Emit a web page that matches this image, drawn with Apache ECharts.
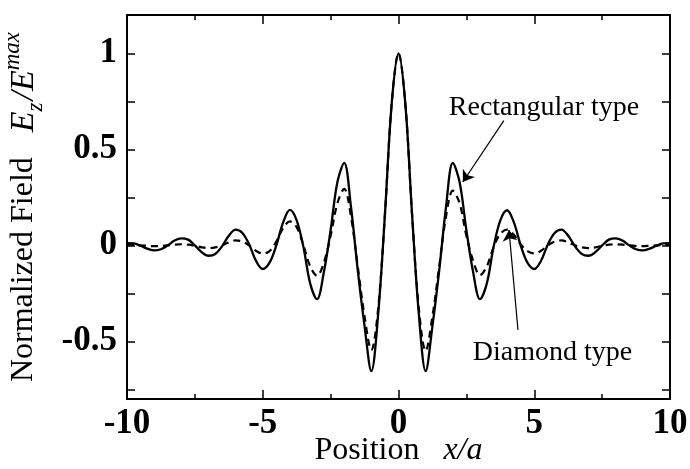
<!DOCTYPE html>
<html>
<head>
<meta charset="utf-8">
<script src="https://cdn.jsdelivr.net/npm/echarts@6/dist/echarts.min.js"></script>
<style>
html,body{margin:0;padding:0;background:#fff;}
#chart{width:690px;height:469px;}
</style>
</head>
<body>
<div id="chart"></div>
<script>
// Position x/a
const xPositions = [-10,-9.75,-9.5,-9.25,-9,-8.75,-8.5,-8.25,-8,-7.75,-7.5,-7.25,-7,-6.75,-6.5,-6.25,-6,-5.75,-5.5,-5.25,-5,-4.75,-4.5,-4.25,-4,-3.75,-3.5,-3.25,-3,-2.75,-2.5,-2.25,-2,-1.75,-1.5,-1.25,-1,-0.75,-0.5,-0.25,0,0.25,0.5,0.75,1,1.25,1.5,1.75,2,2.25,2.5,2.75,3,3.25,3.5,3.75,4,4.25,4.5,4.75,5,5.25,5.5,5.75,6,6.25,6.5,6.75,7,7.25,7.5,7.75,8,8.25,8.5,8.75,9,9.25,9.5,9.75,10];

// Rectangular type (solid)
const rectangularField = [0.012,0.01,-0.002,-0.017,-0.026,-0.02,0.0,0.025,0.037,0.03,0.0,-0.035,-0.054,-0.045,-0.005,0.05,0.082,0.065,0.005,-0.08,-0.123,-0.09,0.0,0.12,0.185,0.13,-0.01,-0.2,-0.28,-0.14,0.08,0.33,0.43,0.2,-0.13,-0.42,-0.655,-0.36,0.16,0.74,1.0,0.74,0.16,-0.36,-0.655,-0.42,-0.13,0.2,0.43,0.33,0.08,-0.14,-0.28,-0.2,-0.01,0.13,0.183,0.12,0.0,-0.09,-0.123,-0.08,0.005,0.065,0.082,0.05,-0.005,-0.045,-0.054,-0.035,0.0,0.03,0.037,0.025,0.0,-0.02,-0.026,-0.017,-0.002,0.01,0.012];

// Diamond type (dashed)
const diamondField = [0.004,0.002,0.0,-0.002,-0.004,-0.003,0.0,0.004,0.006,0.004,-0.002,-0.01,-0.014,-0.01,0.0,0.016,0.026,0.02,0.0,-0.028,-0.043,-0.03,0.02,0.09,0.125,0.095,0.0,-0.11,-0.158,-0.09,0.05,0.22,0.294,0.15,-0.11,-0.37,-0.545,-0.33,0.16,0.74,1.0,0.74,0.16,-0.33,-0.55,-0.37,-0.11,0.15,0.285,0.22,0.05,-0.08,-0.155,-0.11,-0.01,0.06,0.082,0.055,0.005,-0.03,-0.042,-0.028,0.0,0.02,0.026,0.016,0.0,-0.01,-0.014,-0.01,-0.002,0.004,0.006,0.004,0.0,-0.003,-0.004,-0.002,0.0,0.002,0.004];

const xLabelValues = [-10,-5,0,5,10];
const yTickValues = [-0.75,-0.5,-0.25,0,0.25,0.5,0.75,1];
const yLabelValues = [-0.5,0,0.5,1];

const FONT = '"Liberation Serif","Times New Roman",serif';

function pairs(xs, ys){ return xs.map((x,i)=>[x, ys[i]]); }

const chart = echarts.init(document.getElementById('chart'), null, {renderer:'canvas'});

const axisLineStyle = {color:'#000', width:2};

const xBase = {
  type:'value', min:-10, max:10, interval:5,
  axisLine:{show:true, onZero:false, lineStyle:axisLineStyle},
  axisTick:{show:true, inside:true, length:9, lineStyle:{color:'#000', width:1.5}},
  minorTick:{show:true, splitNumber:2, length:5, lineStyle:{color:'#000', width:1.5}},
  splitLine:{show:false}, minorSplitLine:{show:false}
};
const yBase = {
  type:'value', min:-0.8, max:1.2,
  axisLine:{show:true, onZero:false, lineStyle:axisLineStyle},
  axisTick:{show:true, inside:true, length:8, customValues:yTickValues, lineStyle:{color:'#000', width:1.5}},
  splitLine:{show:false}
};

const option = {
  backgroundColor:'#fff',
  animation:false,
  grid:{left:127, right:20, top:15, bottom:70, containLabel:false, outerBoundsMode:'none'},
  xAxis:[
    Object.assign({}, xBase, {
      position:'bottom',
      axisLabel:{show:true, margin:7, color:'#000', fontFamily:FONT, fontWeight:'bold', fontSize:35,
        customValues:xLabelValues, formatter:v=>String(v)},
      name:'Position{i|x/a}', nameLocation:'middle', nameGap:36, nameMoveOverlap:false,
      nameTextStyle:{color:'#000', fontFamily:FONT, fontSize:32,
        rich:{i:{fontStyle:'italic', fontFamily:FONT, fontSize:32, color:'#000', padding:[0,0,0,24]}}}
    }),
    Object.assign({}, xBase, {position:'top', axisLabel:{show:false}})
  ],
  yAxis:[
    Object.assign({}, yBase, {
      position:'left',
      axisLabel:{show:true, margin:10, color:'#000', fontFamily:FONT, fontWeight:'bold', fontSize:35,
        customValues:yLabelValues, formatter:v=>String(v)},
      name:'Normalized Field{E|E}{sub|z}{i|/E}{sup|max}', nameLocation:'middle', nameGap:80, nameMoveOverlap:false,
      nameTextStyle:{color:'#000', fontFamily:FONT, fontSize:32, lineHeight:46,
        rich:{
          E:{fontStyle:'italic', fontFamily:FONT, fontSize:34, color:'#000', verticalAlign:'middle', padding:[0,0,0,25]},
          i:{fontStyle:'italic', fontFamily:FONT, fontSize:34, color:'#000', verticalAlign:'middle', padding:[0,0,0,2]},
          sub:{fontStyle:'italic', fontFamily:FONT, fontSize:23, color:'#000', verticalAlign:'bottom', lineHeight:36},
          sup:{fontStyle:'italic', fontFamily:FONT, fontSize:23, color:'#000', verticalAlign:'top', lineHeight:36}
        }}
    }),
    Object.assign({}, yBase, {position:'right', axisLabel:{show:false}})
  ],
  series:[
    {
      name:'Rectangular type', type:'line', xAxisIndex:0, yAxisIndex:0,
      data:pairs(xPositions, rectangularField), smooth:0.35, showSymbol:false, symbol:'none',
      lineStyle:{color:'#000', width:2.3, type:'solid'}, z:3,
      markLine:{
        silent:true, symbol:['none','arrow'], symbolSize:11, label:{show:false},
        lineStyle:{color:'#000', width:1.2, type:'solid'},
        data:[[{coord:[3.88,0.65]},{coord:[2.37,0.33]}]]
      },
      markPoint:{
        silent:true, symbol:'circle', symbolSize:0,
        label:{show:true, position:'inside', color:'#000', fontFamily:FONT, fontSize:28, formatter:p=>p.name},
        data:[{name:'Rectangular type', coord:[5.36,0.717]}]
      }
    },
    {
      name:'Diamond type', type:'line', xAxisIndex:0, yAxisIndex:0,
      data:pairs(xPositions, diamondField), smooth:0.35, showSymbol:false, symbol:'none',
      lineStyle:{color:'#000', width:2.2, type:[7,5]}, z:2,
      markLine:{
        silent:true, symbol:['none','arrow'], symbolSize:11, label:{show:false},
        lineStyle:{color:'#000', width:1.2, type:'solid'},
        data:[[{coord:[4.40,-0.44]},{coord:[4.07,0.08]}]]
      },
      markPoint:{
        silent:true, symbol:'circle', symbolSize:0,
        label:{show:true, position:'inside', color:'#000', fontFamily:FONT, fontSize:28, formatter:p=>p.name},
        data:[{name:'Diamond type', coord:[5.67,-0.559]}]
      }
    }
  ]
};
chart.setOption(option);
</script>
</body>
</html>
